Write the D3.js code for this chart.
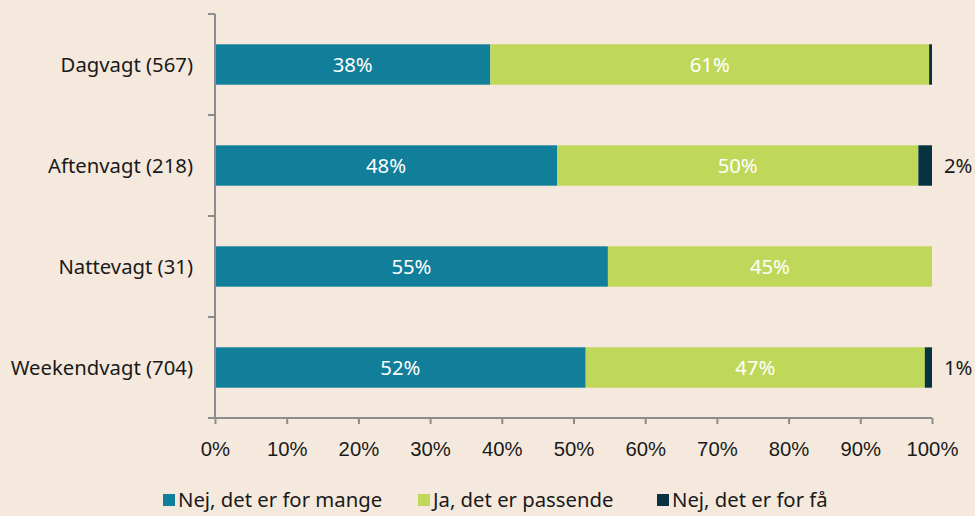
<!DOCTYPE html>
<html>
<head>
<meta charset="utf-8">
<script src="https://cdn.jsdelivr.net/npm/d3@7"></script>
<style>
  html, body { margin: 0; padding: 0; background: #f5e9dd; }
  svg { display: block; font-family: "Noto Sans", "Open Sans", sans-serif; }
</style>
</head>
<body>
<div id="general"></div>
<script>
const w = 975, h = 516;
const m = { l: 215, r: 43, t: 14, b: 98 };
m.w = w - m.l - m.r;
m.h = h - m.t - m.b;

const categories = ["Dagvagt (567)", "Aftenvagt (218)", "Nattevagt (31)", "Weekendvagt (704)"];
const series = ["Nej, det er for mange", "Ja, det er passende", "Nej, det er for få"];
const tooMany = [38.4, 47.7, 54.8, 51.7];
const fitting = [61.2, 50.4, 45.2, 47.3];
const tooFew = [0.4, 1.9, 0, 1.0];
const xTicks = [0, 10, 20, 30, 40, 50, 60, 70, 80, 90, 100];
const colors = ["#117e9a", "#bfd859", "#07323f"];

const fs = 20.3;
const rows = categories.map((c, i) => ({ cat: c, [series[0]]: tooMany[i], [series[1]]: fitting[i], [series[2]]: tooFew[i] }));
const stacked = d3.stack().keys(series)(rows);

const svg = d3.select("#general").append("svg").attr("width", w).attr("height", h);
const g = svg.append("g").attr("transform", `translate(${m.l},${m.t})`);

const x = d3.scaleLinear().domain([0, 100]).range([0, m.w]);
const y = d3.scaleBand().domain(categories).range([0, m.h]).paddingInner(0.6).paddingOuter(0.3);
const color = d3.scaleOrdinal().domain(series).range(colors);

// bars
const layer = g.selectAll("g.layer")
  .data(stacked)
  .join("g")
  .attr("class", "layer")
  .attr("fill", d => color(d.key));

layer.selectAll("rect")
  .data(d => d)
  .join("rect")
  .attr("x", d => x(d[0]))
  .attr("width", d => x(d[1]) - x(d[0]))
  .attr("y", d => y(d.data.cat))
  .attr("height", y.bandwidth());

// labels inside first two series
stacked.slice(0, 2).forEach(s => {
  g.append("g").selectAll("text")
    .data(s)
    .join("text")
    .attr("x", d => (x(d[0]) + x(d[1])) / 2)
    .attr("y", d => y(d.data.cat) + y.bandwidth() / 2)
    .attr("dy", "0.36em")
    .attr("text-anchor", "middle")
    .attr("fill", "#ffffff")
    .attr("font-size", fs)
    .text(d => Math.round(d[1] - d[0]) + "%");
});

// labels for the small last series, outside the bar
g.append("g").selectAll("text")
  .data(stacked[2].filter(d => Math.round(d[1] - d[0]) >= 1))
  .join("text")
  .attr("x", d => x(d[1]) + 12)
  .attr("y", d => y(d.data.cat) + y.bandwidth() / 2)
  .attr("dy", "0.36em")
  .attr("fill", "#1a1a1a")
  .attr("font-size", fs)
  .text(d => Math.round(d[1] - d[0]) + "%");

// axes
const axisColor = "#8c8c8c";
const xAxis = g.append("g").attr("transform", `translate(0,${m.h})`)
  .call(d3.axisBottom(x).tickValues(xTicks).tickFormat(d => d + "%").tickSize(6).tickSizeOuter(0));
xAxis.select(".domain").attr("stroke", axisColor).attr("stroke-width", 2).attr("d", `M-7,0H${m.w}`);
xAxis.selectAll(".tick line").attr("stroke", axisColor).attr("stroke-width", 2);
xAxis.selectAll(".tick text").attr("fill", "#1a1a1a").attr("font-size", fs).attr("font-family", null).attr("dy", "1.45em");

const yAxis = g.append("g");
yAxis.append("line").attr("x1", 0).attr("x2", 0).attr("y1", 0).attr("y2", m.h)
  .attr("stroke", axisColor).attr("stroke-width", 2);
const edges = [0].concat(categories.slice(1).map(c => y(c) - (y.step() - y.bandwidth()) / 2), [m.h]);
yAxis.selectAll("line.tk")
  .data(edges)
  .join("line")
  .attr("class", "tk")
  .attr("x1", -7).attr("x2", 0)
  .attr("y1", d => d).attr("y2", d => d)
  .attr("stroke", axisColor).attr("stroke-width", 2);
yAxis.selectAll("text")
  .data(categories)
  .join("text")
  .attr("x", -22)
  .attr("y", d => y(d) + y.bandwidth() / 2)
  .attr("dy", "0.36em")
  .attr("text-anchor", "end")
  .attr("fill", "#1a1a1a")
  .attr("font-size", fs)
  .text(d => d);

// legend
const legendX = [163, 418, 657];
const legend = svg.append("g").attr("transform", `translate(0,${h - 16})`);
const li = legend.selectAll("g").data(series).join("g")
  .attr("transform", (d, i) => `translate(${legendX[i]},0)`);
li.append("rect").attr("x", 0).attr("y", -6).attr("width", 12).attr("height", 12).attr("fill", d => color(d));
li.append("text").attr("x", 15).attr("y", 0).attr("dy", "0.36em").attr("font-size", fs).attr("fill", "#1a1a1a").text(d => d);
</script>
</body>
</html>
